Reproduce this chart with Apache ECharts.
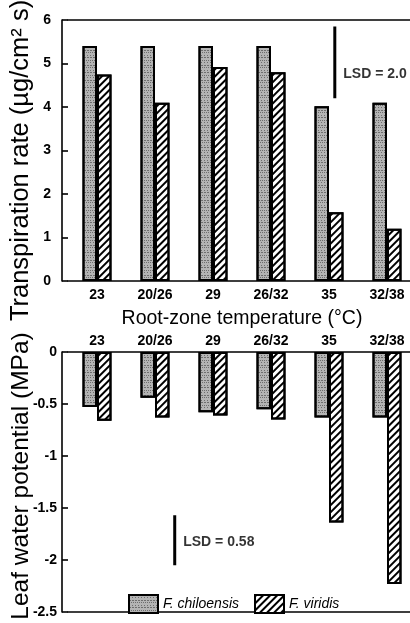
<!DOCTYPE html>
<html>
<head>
<meta charset="utf-8">
<script src="https://cdn.jsdelivr.net/npm/echarts@6/dist/echarts.min.js"></script>
<style>html,body{margin:0;padding:0;background:#fff}#c{width:410px;height:623px}</style>
</head>
<body>
<div id="c"></div>
<script>
var categories = ['23', '20/26', '29', '26/32', '35', '32/38'];
var seriesNames = ['F. chiloensis', 'F. viridis'];
var transChil = [5.4, 5.4, 5.4, 5.4, 4.02, 4.1];
var transVir = [4.75, 4.1, 4.92, 4.8, 1.58, 1.2];
var lwpChil = [-0.53, -0.44, -0.58, -0.55, -0.63, -0.63];
var lwpVir = [-0.66, -0.63, -0.61, -0.65, -1.64, -2.23];
var lsdTopText = 'LSD = 2.0';
var lsdTopLine = [[4.1, 5.85], [4.1, 4.2]];
var lsdTopLabelAt = [4.1, 4.75];
var lsdBotText = 'LSD = 0.58';
var lsdBotLine = [[1.34, -1.57], [1.34, -2.05]];
var lsdBotLabelAt = [1.34, -1.83];

var FONT = '"Liberation Sans", Arial, Helvetica, sans-serif';
var chart = echarts.init(document.getElementById('c'), null, {renderer: 'canvas'});

var stipple = {
  symbol: 'rect', symbolSize: 1,
  dashArrayX: [[1, 2], [2, 1], [1, 1]], dashArrayY: [1, 1, 1, 2],
  color: 'rgba(40,40,40,0.5)'
};
var hatch = {
  symbol: 'rect', symbolSize: 1,
  dashArrayX: [1, 0], dashArrayY: [2, 3],
  rotation: -Math.PI / 4, color: '#000'
};
var chilStyle = {color: '#b4b4b4', borderColor: '#000', borderWidth: 2, decal: stipple};
var virStyle = {color: '#fff', borderColor: '#000', borderWidth: 2, decal: hatch};

var tickLbl = {fontFamily: FONT, fontWeight: 'bold', fontSize: 14, color: '#000'};
var axLine = {show: true, onZero: false, lineStyle: {color: '#000', width: 1.6}};

function lsdSeries(xi, yi, pts) {
  return {type: 'line', xAxisIndex: xi, yAxisIndex: yi, symbol: 'none', silent: true,
          lineStyle: {color: '#000', width: 3}, data: pts};
}
function lsdLabelSeries(xi, yi, pt, txt) {
  return {type: 'scatter', xAxisIndex: xi, yAxisIndex: yi, symbolSize: 1, silent: true,
          itemStyle: {color: 'rgba(0,0,0,0)'},
          label: {show: true, position: 'right', distance: 8, formatter: txt,
                  fontFamily: FONT, fontWeight: 'bold', fontSize: 14, color: '#000'},
          data: [pt]};
}

var option = {
  animation: false,
  backgroundColor: '#fff',
  grid: [
    {left: 68, right: -6, top: 20, bottom: 342, outerBoundsMode: 'none', containLabel: false},
    {left: 68, right: -6, top: 352, bottom: 11, outerBoundsMode: 'none', containLabel: false}
  ],
  legend: {
    data: seriesNames, left: 123, top: 589, itemWidth: 29, itemHeight: 18, itemGap: 15,
    icon: 'rect',
    textStyle: {fontFamily: FONT, fontStyle: 'italic', fontSize: 14, color: '#000'}
  },
  xAxis: [
    {type: 'category', gridIndex: 0, data: categories, position: 'bottom',
     axisLine: axLine, axisTick: {show: false}, axisLabel: Object.assign({margin: 7}, tickLbl),
     name: 'Root-zone temperature (°C)', nameLocation: 'middle', nameGap: 28, nameMoveOverlap: false,
     nameTextStyle: {fontFamily: FONT, fontSize: 19.5, color: '#000'}},
    {type: 'value', gridIndex: 0, min: -0.5, max: 5.5, position: 'top',
     axisLine: axLine, axisTick: {show: false}, axisLabel: {show: false}, splitLine: {show: false}},
    {type: 'category', gridIndex: 1, data: categories, position: 'top',
     axisLine: axLine, axisTick: {show: false}, axisLabel: Object.assign({margin: 4}, tickLbl)},
    {type: 'value', gridIndex: 1, min: -0.5, max: 5.5, position: 'bottom',
     axisLine: axLine, axisTick: {show: false}, axisLabel: {show: false}, splitLine: {show: false}}
  ],
  yAxis: [
    {type: 'value', gridIndex: 0, min: 0, max: 6, interval: 1, offset: 6,
     axisLine: axLine, axisTick: {show: true, inside: true, length: 6, lineStyle: {color: '#000', width: 1.6}},
     axisLabel: Object.assign({margin: 11}, tickLbl), splitLine: {show: false},
     name: 'Transpiration rate (µg/cm² s)', nameLocation: 'middle', nameGap: 28, nameMoveOverlap: false,
     nameTextStyle: {fontFamily: FONT, fontSize: 25.5, color: '#000', padding: [0, 20, 0, 0]}},
    {type: 'value', gridIndex: 1, min: -2.5, max: 0, interval: 0.5, offset: 6,
     axisLine: axLine, axisTick: {show: true, inside: true, length: 6, lineStyle: {color: '#000', width: 1.6}},
     axisLabel: Object.assign({margin: 5}, tickLbl), splitLine: {show: false},
     name: 'Leaf water potential (MPa)', nameLocation: 'middle', nameGap: 28, nameMoveOverlap: false,
     nameTextStyle: {fontFamily: FONT, fontSize: 24.5, color: '#000', padding: [0, 0, 0, 12]}}
  ],
  series: [
    {name: seriesNames[0], type: 'bar', xAxisIndex: 0, yAxisIndex: 0, data: transChil,
     barGap: '0%', barCategoryGap: '50%', itemStyle: chilStyle},
    {name: seriesNames[1], type: 'bar', xAxisIndex: 0, yAxisIndex: 0, data: transVir,
     barGap: '0%', barCategoryGap: '50%', itemStyle: virStyle},
    {name: seriesNames[0], type: 'bar', xAxisIndex: 2, yAxisIndex: 1, data: lwpChil,
     barGap: '0%', barCategoryGap: '50%', itemStyle: chilStyle},
    {name: seriesNames[1], type: 'bar', xAxisIndex: 2, yAxisIndex: 1, data: lwpVir,
     barGap: '0%', barCategoryGap: '50%', itemStyle: virStyle},
    lsdSeries(1, 0, lsdTopLine),
    lsdLabelSeries(1, 0, lsdTopLabelAt, lsdTopText),
    lsdSeries(3, 1, lsdBotLine),
    lsdLabelSeries(3, 1, lsdBotLabelAt, lsdBotText)
  ]
};
chart.setOption(option);
</script>
</body>
</html>
